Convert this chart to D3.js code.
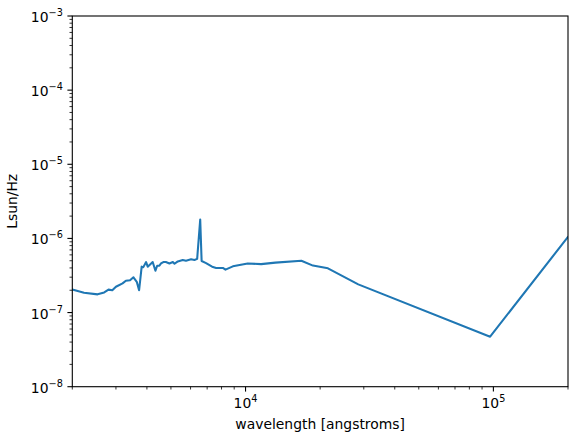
<!DOCTYPE html>
<html>
<head>
<meta charset="utf-8">
<script src="https://cdn.jsdelivr.net/npm/d3@7"></script>
<style>
  body { margin: 0; background: #fff; }
  svg { font-family: "DejaVu Sans", sans-serif; }
</style>
</head>
<body>
<div id="chart"></div>
<script>
// Wavelength (angstroms) and luminosity density (Lsun/Hz)
const wavelength = [1950, 2000, 2230, 2530, 2690, 2800, 2900, 3000, 3190, 3290, 3420, 3530, 3640, 3720,
  3810, 3870, 3970, 4030, 4160, 4220, 4330, 4400, 4490, 4560, 4660, 4770, 4930, 5090, 5170,
  5330, 5580, 5750, 6030, 6220, 6380, 6563, 6650, 6930, 7330, 7610, 8100, 8300, 8890,
  10200, 11560, 13200, 16800, 18700, 21500, 28500, 97000, 200000, 210000];
const lum = [2.1e-7, 2.05e-7, 1.85e-7, 1.76e-7, 1.87e-7, 2.04e-7, 2.0e-7, 2.23e-7, 2.48e-7, 2.69e-7, 2.73e-7, 2.99e-7, 2.6e-7, 2.0e-7,
  4.16e-7, 4.1e-7, 4.8e-7, 4.16e-7, 4.6e-7, 4.8e-7, 3.67e-7, 4.28e-7, 4.28e-7, 4.6e-7, 4.8e-7, 4.8e-7, 4.6e-7, 4.8e-7, 4.55e-7,
  4.9e-7, 5.11e-7, 5.0e-7, 5.22e-7, 5.11e-7, 5.3e-7, 1.8e-6, 4.95e-7, 4.65e-7, 4.16e-7, 4.0e-7, 4.0e-7, 3.79e-7, 4.2e-7,
  4.6e-7, 4.5e-7, 4.72e-7, 5.0e-7, 4.3e-7, 3.95e-7, 2.4e-7, 4.73e-8, 1.05e-6, 1.15e-6];

const xDomain = [2000, 200000];
const yDomain = [1e-8, 1e-3];
const xMajor = [1e4, 1e5];
const yMajor = [1e-8, 1e-7, 1e-6, 1e-5, 1e-4, 1e-3];

const W = 578, H = 442;
const margin = { top: 16, right: 10, bottom: 55.3, left: 72.3 };
const width = W - margin.left - margin.right,
    height = H - margin.top - margin.bottom;

const svg = d3.select('#chart').append('svg')
    .attr('width', W)
    .attr('height', H);

const g = svg.append('g')
    .attr('transform', `translate(${margin.left},${margin.top})`);

const x = d3.scaleLog().domain(xDomain).range([0, width]);
const y = d3.scaleLog().domain(yDomain).range([height, 0]);

// minor ticks: 2..9 in each decade
function minors(domain) {
  let out = [];
  for (let e = Math.floor(Math.log10(domain[0])); e <= Math.ceil(Math.log10(domain[1])); e++) {
    for (let k = 2; k <= 9; k++) {
      let v = k * Math.pow(10, e);
      if (v >= domain[0] * 0.999 && v <= domain[1] * 1.001) out.push(v);
    }
  }
  return out;
}

g.append('clipPath').attr('id', 'clip')
  .append('rect').attr('width', width).attr('height', height);

const line = d3.line()
    .x((d, i) => x(wavelength[i]))
    .y(d => y(d));

g.append('path')
    .datum(lum)
    .attr('clip-path', 'url(#clip)')
    .attr('fill', 'none')
    .attr('stroke', '#1f77b4')
    .attr('stroke-width', 2.08)
    .attr('stroke-linejoin', 'round')
    .attr('stroke-linecap', 'square')
    .attr('d', line);

// frame
g.append('rect')
    .attr('width', width).attr('height', height)
    .attr('fill', 'none').attr('stroke', '#000').attr('stroke-width', 1.1);

const tickCol = '#000';

// x ticks
g.selectAll('line.xmin').data(minors(xDomain)).enter().append('line')
    .attr('x1', d => x(d)).attr('x2', d => x(d))
    .attr('y1', height).attr('y2', height + 2.8)
    .attr('stroke', tickCol).attr('stroke-width', 0.8);
g.selectAll('line.xmaj').data(xMajor).enter().append('line')
    .attr('x1', d => x(d)).attr('x2', d => x(d))
    .attr('y1', height).attr('y2', height + 4.9)
    .attr('stroke', tickCol).attr('stroke-width', 1.1);

const xl = g.selectAll('text.xt').data(xMajor).enter().append('text')
    .attr('x', d => x(d)).attr('y', height + 21)
    .attr('text-anchor', 'middle')
    .attr('font-size', 13.9);
xl.append('tspan').text('10');
xl.append('tspan').attr('dy', -6).attr('font-size', 9.7).text(d => Math.round(Math.log10(d)));

// y ticks
g.selectAll('line.ymin').data(minors(yDomain)).enter().append('line')
    .attr('x1', 0).attr('x2', -2.8)
    .attr('y1', d => y(d)).attr('y2', d => y(d))
    .attr('stroke', tickCol).attr('stroke-width', 0.8);
g.selectAll('line.ymaj').data(yMajor).enter().append('line')
    .attr('x1', 0).attr('x2', -4.9)
    .attr('y1', d => y(d)).attr('y2', d => y(d))
    .attr('stroke', tickCol).attr('stroke-width', 1.1);

const yl = g.selectAll('text.yt').data(yMajor).enter().append('text')
    .attr('x', -9.5).attr('y', d => y(d) + 6)
    .attr('text-anchor', 'end')
    .attr('font-size', 13.9);
yl.append('tspan').text('10');
yl.append('tspan').attr('dy', -6).attr('font-size', 9.7)
    .text(d => '\u2212' + Math.abs(Math.round(Math.log10(d))));

// axis labels
g.append('text')
    .attr('x', width / 2).attr('y', height + 42)
    .attr('text-anchor', 'middle').attr('font-size', 13.9)
    .text('wavelength [angstroms]');

g.append('text')
    .attr('transform', `translate(${-55.5},${height / 2}) rotate(-90)`)
    .attr('text-anchor', 'middle').attr('font-size', 13.9)
    .text('Lsun/Hz');
</script>
</body>
</html>
